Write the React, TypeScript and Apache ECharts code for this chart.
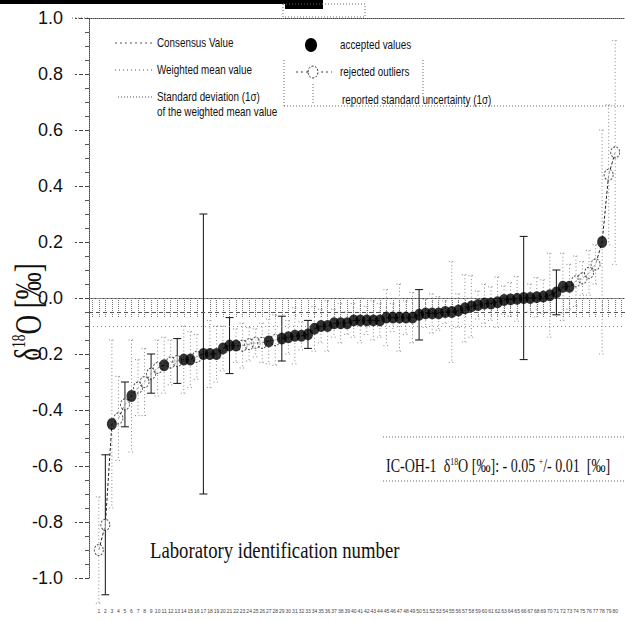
import React, { useEffect, useRef } from "react";
import * as echarts from "echarts";

// ---- data ----
const labIds = [
  "1","2","3","4","5","6","7","8","9","10","11","12","13","14","15","16","17","18","19","20",
  "21","22","23","24","25","26","27","28","29","30","31","32","33","34","35","36","37","38","39","40",
  "41","42","43","44","45","46","47","48","49","50","51","52","53","54","55","56","57","58","59","60",
  "61","62","63","64","65","66","67","68","69","70","71","72","73","74","75","76","77","78","79","80",
];

const deltaValues = [
  -0.90, -0.81, -0.45, -0.43, -0.38, -0.35, -0.32, -0.30, -0.27, -0.25,
  -0.24, -0.23, -0.225, -0.22, -0.22, -0.21, -0.20, -0.20, -0.20, -0.18,
  -0.17, -0.17, -0.17, -0.165, -0.16, -0.16, -0.155, -0.15, -0.145, -0.14,
  -0.135, -0.135, -0.13, -0.11, -0.10, -0.10, -0.09, -0.09, -0.09, -0.08,
  -0.08, -0.08, -0.08, -0.08, -0.07, -0.07, -0.07, -0.07, -0.07, -0.06,
  -0.055, -0.055, -0.055, -0.05, -0.05, -0.045, -0.037, -0.03, -0.025, -0.02,
  -0.02, -0.015, -0.007, -0.005, -0.003, 0.0, 0.0, 0.003, 0.005, 0.01,
  0.02, 0.04, 0.04, 0.06, 0.07, 0.09, 0.12, 0.20, 0.44, 0.52,
];

const uncertainties = [
  0.19, 0.25, 0.30, 0.15, 0.08, 0.20, 0.10, 0.12, 0.07, 0.10,
  0.10, 0.08, 0.08, 0.12, 0.10, 0.08, 0.50, 0.12, 0.10, 0.08,
  0.10, 0.06, 0.08, 0.06, 0.05, 0.07, 0.08, 0.09, 0.08, 0.06,
  0.10, 0.05, 0.05, 0.08, 0.06, 0.09, 0.05, 0.07, 0.04, 0.06,
  0.08, 0.05, 0.07, 0.06, 0.10, 0.05, 0.12, 0.06, 0.09, 0.09,
  0.05, 0.07, 0.06, 0.04, 0.18, 0.06, 0.12, 0.11, 0.05, 0.07,
  0.06, 0.09, 0.05, 0.06, 0.08, 0.22, 0.05, 0.07, 0.06, 0.15,
  0.08, 0.12, 0.08, 0.09, 0.06, 0.08, 0.07, 0.40, 0.25, 0.40,
];

// 1 = accepted value, 0 = rejected outlier
const accepted = [
  0, 0, 1, 0, 0, 1, 0, 0, 0, 0,
  1, 0, 0, 1, 1, 0, 1, 1, 1, 1,
  1, 1, 0, 0, 0, 0, 1, 0, 1, 1,
  1, 1, 1, 1, 1, 1, 1, 1, 1, 1,
  1, 1, 1, 1, 1, 1, 1, 1, 1, 1,
  1, 1, 1, 1, 1, 1, 1, 1, 1, 1,
  1, 1, 1, 1, 1, 1, 1, 1, 1, 1,
  1, 1, 1, 0, 0, 0, 0, 1, 0, 0,
];

// error bars drawn as solid lines (the rest are dotted)
const solidBars = [1, 4, 8, 12, 16, 20, 28, 32, 49, 65, 70];

const consensusValue = -0.05;
const upperRefLine = 0.0;
const lowerRefLine = -0.1;

const SANS = "'Liberation Sans Narrow', 'Arial Narrow', 'Liberation Sans', Arial, sans-serif";
const SERIF = "'Liberation Serif', 'Times New Roman', serif";

export default function App() {
  const ref = useRef<HTMLDivElement>(null);

  useEffect(() => {
    if (!ref.current) return;
    const chart = echarts.init(ref.current, undefined, { renderer: "svg" });

    const categories = ["", ...labIds, ""];
    const linePts = deltaValues.map((v, i) => [i + 1, v]);
    const acc = deltaValues.map((v, i) => [i + 1, v]).filter((_, i) => accepted[i] === 1);
    const rej = deltaValues.map((v, i) => [i + 1, v]).filter((_, i) => accepted[i] === 0);
    const bars = deltaValues.map((v, i) => [
      i + 1,
      v - uncertainties[i],
      v + uncertainties[i],
      solidBars.indexOf(i) >= 0 ? 1 : 0,
    ]);

    const dotted = { stroke: "#666", lineWidth: 1, lineDash: [1, 2] };
    const legendText = (text: string, x: number, y: number) => ({
      type: "text",
      x,
      y,
      scaleX: 0.82,
      style: { text, fontFamily: SANS, fontSize: 12, fill: "#111", verticalAlign: "middle" },
    });

    chart.setOption({
      animation: false,
      backgroundColor: "#fff",
      grid: { left: 89, right: -7, top: 18, bottom: 43, containLabel: false },
      xAxis: [
        {
          type: "category",
          data: categories,
          position: "bottom",
          axisLine: { lineStyle: { color: "#444", type: "dotted", width: 1 } },
          axisTick: {
            show: true,
            interval: 0,
            alignWithLabel: true,
            length: 19,
            lineStyle: { color: "#777", type: "dotted" },
          },
          axisLabel: {
            interval: 0,
            fontSize: 5,
            color: "#444",
            margin: 30,
            fontFamily: SANS,
          },
          splitLine: { show: false },
        },
        {
          type: "category",
          data: categories,
          position: "top",
          axisLine: { lineStyle: { color: "#444", type: "dotted", width: 1 } },
          axisTick: { show: false },
          axisLabel: { show: false },
        },
      ],
      yAxis: {
        type: "value",
        min: -1,
        max: 1,
        interval: 0.2,
        axisLine: { show: true, lineStyle: { color: "#444", type: "dotted" } },
        axisTick: { show: true, inside: false, length: 14, lineStyle: { color: "#444", type: "dashed" } },
        minorTick: { show: true, splitNumber: 4, length: 4, lineStyle: { color: "#555" } },
        axisLabel: {
          fontSize: 18,
          color: "#111",
          margin: 26,
          fontFamily: SANS,
          formatter: (v: number) => (Math.abs(v) < 1e-9 ? "0.0" : v.toFixed(1)),
        },
        splitLine: { show: false },
      },
      series: [
        {
          type: "line",
          data: linePts,
          symbol: "none",
          z: 2,
          lineStyle: { color: "#222", width: 1, type: [3, 2] },
          markLine: {
            silent: true,
            symbol: "none",
            label: { show: false },
            data: [
              { yAxis: upperRefLine, lineStyle: { color: "#888", type: [1, 3], width: 1 } },
              { yAxis: consensusValue, lineStyle: { color: "#555", type: [4, 3], width: 1 } },
              { yAxis: lowerRefLine, lineStyle: { color: "#888", type: [1, 3], width: 1 } },
            ],
          },
        },
        {
          type: "custom",
          z: 3,
          clip: false,
          data: bars,
          renderItem: (_params: any, api: any) => {
            const x = api.value(0);
            const lo = api.value(1);
            const hi = api.value(2);
            const solid = api.value(3);
            const p1 = api.coord([x, hi]);
            const p2 = api.coord([x, lo]);
            const style = solid
              ? { stroke: "#111", lineWidth: 1 }
              : { stroke: "#888", lineWidth: 1, lineDash: [1, 2.5] };
            const cw = solid ? 4 : 3;
            return {
              type: "group",
              children: [
                { type: "line", shape: { x1: p1[0], y1: p1[1], x2: p2[0], y2: p2[1] }, style },
                { type: "line", shape: { x1: p1[0] - cw, y1: p1[1], x2: p1[0] + cw, y2: p1[1] }, style },
                { type: "line", shape: { x1: p2[0] - cw, y1: p2[1], x2: p2[0] + cw, y2: p2[1] }, style },
              ],
            };
          },
        },
        {
          type: "scatter",
          data: rej,
          z: 4,
          symbol: "circle",
          symbolSize: [9, 11],
          itemStyle: { color: "rgba(255,255,255,0.6)", borderColor: "#222", borderWidth: 1, borderType: [2, 1.5] },
        },
        {
          type: "scatter",
          data: acc,
          z: 5,
          symbol: "circle",
          symbolSize: [10, 12],
          itemStyle: { color: "#000" },
        },
      ],
      graphic: [
        // scan bar at the top
        { type: "rect", shape: { x: 0, y: 0, width: 323, height: 4 }, style: { fill: "#000" } },
        { type: "rect", shape: { x: 285, y: 0, width: 38, height: 9 }, style: { fill: "#000" } },
        { type: "rect", shape: { x: 283, y: 4, width: 82, height: 13 }, style: { fill: "none", ...dotted } },
        { type: "line", shape: { x1: 72, y1: 18, x2: 89, y2: 18 }, style: dotted },
        // y axis title
        {
          type: "text",
          x: 28,
          y: 312,
          rotation: Math.PI / 2,
          scaleX: 0.9,
          scaleY: 1.25,
          style: {
            text: "δ{s|18}O [‰]",
            fontFamily: SERIF,
            fontSize: 30,
            fill: "#111",
            align: "center",
            verticalAlign: "middle",
            rich: { s: { fontSize: 15, fontFamily: SERIF, verticalAlign: "top", fill: "#111" } },
          },
        },
        // legend, left block
        { type: "line", shape: { x1: 115, y1: 43, x2: 152, y2: 43 }, style: { stroke: "#555", lineWidth: 1, lineDash: [2, 3] } },
        { type: "line", shape: { x1: 115, y1: 70, x2: 152, y2: 70 }, style: { stroke: "#555", lineWidth: 1, lineDash: [1, 3] } },
        { type: "line", shape: { x1: 118, y1: 97, x2: 152, y2: 97 }, style: { stroke: "#555", lineWidth: 1, lineDash: [1, 2] } },
        legendText("Consensus Value", 157, 43),
        legendText("Weighted mean value", 157, 70),
        legendText("Standard deviation (1σ)", 157, 97),
        legendText("of the weighted mean value", 157, 112),
        // legend, right block
        { type: "ellipse", shape: { cx: 311, cy: 45, rx: 6, ry: 7 }, style: { fill: "#000" } },
        { type: "line", shape: { x1: 296, y1: 72, x2: 332, y2: 72 }, style: { stroke: "#444", lineWidth: 1, lineDash: [2, 3] } },
        { type: "ellipse", shape: { cx: 313, cy: 72, rx: 5, ry: 6 }, style: { fill: "#fff", stroke: "#333", lineWidth: 1, lineDash: [2, 1.5] } },
        { type: "line", shape: { x1: 313, y1: 84, x2: 313, y2: 104 }, style: dotted },
        legendText("accepted values", 340, 45),
        legendText("rejected outliers", 340, 72),
        legendText("reported standard uncertainty (1σ)", 342, 100),
        { type: "line", shape: { x1: 284, y1: 60, x2: 284, y2: 106 }, style: dotted },
        { type: "line", shape: { x1: 284, y1: 106, x2: 625, y2: 106 }, style: dotted },
        { type: "line", shape: { x1: 423, y1: 60, x2: 423, y2: 98 }, style: dotted },
        // result box
        { type: "line", shape: { x1: 383, y1: 437, x2: 625, y2: 437 }, style: dotted },
        { type: "line", shape: { x1: 383, y1: 481, x2: 625, y2: 481 }, style: dotted },
        {
          type: "text",
          x: 386,
          y: 466,
          scaleX: 0.78,
          style: {
            text: "IC-OH-1  δ{s|18}O [‰]: - 0.05 {s|+}/- 0.01  [‰]",
            fontFamily: SERIF,
            fontSize: 18,
            fill: "#111",
            verticalAlign: "middle",
            rich: { s: { fontSize: 10, fontFamily: SERIF, verticalAlign: "top", fill: "#111" } },
          },
        },
        // x axis title
        {
          type: "text",
          x: 150,
          y: 550,
          scaleX: 0.78,
          style: {
            text: "Laboratory identification number",
            fontFamily: SERIF,
            fontSize: 24,
            fill: "#111",
            verticalAlign: "middle",
          },
        },
      ],
    });

    return () => chart.dispose();
  }, []);

  return (
    <div
      ref={ref}
      style={{ position: "fixed", left: 0, top: 0, width: 625, height: 621, background: "#fff" }}
    />
  );
}
